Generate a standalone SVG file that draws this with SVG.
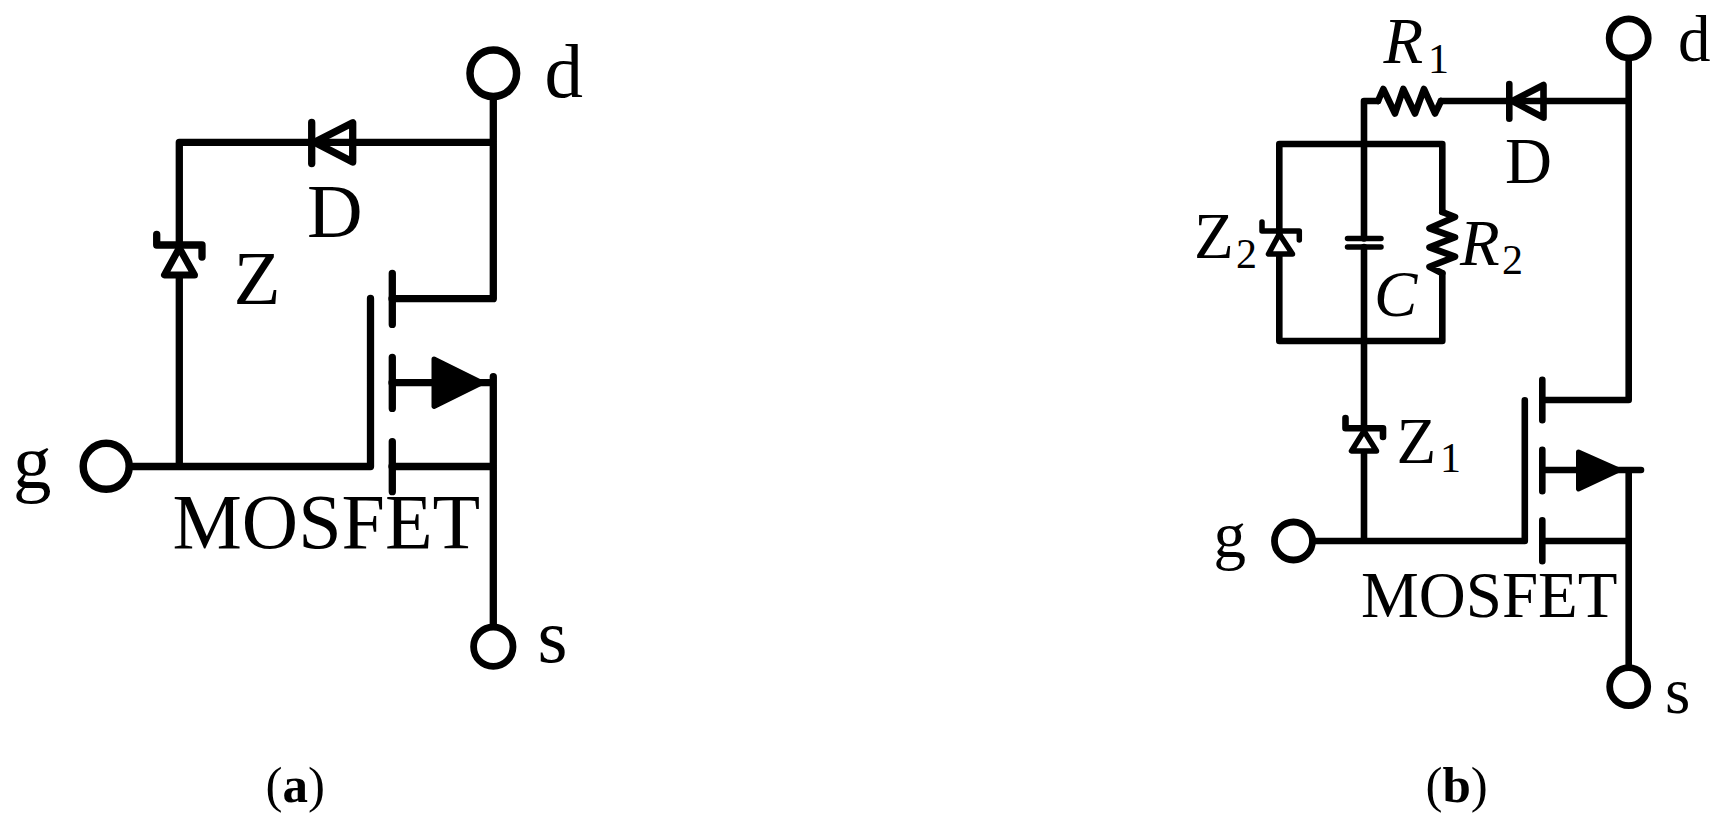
<svg xmlns="http://www.w3.org/2000/svg" width="1728" height="828" viewBox="0 0 1728 828">
<style>
text{font-family:"Liberation Serif","Times New Roman",serif;fill:#000}
.i{font-style:italic}
.w{fill:none;stroke:#000;stroke-width:7.300;stroke-linecap:round;stroke-linejoin:round}
.n{fill:none;stroke:#000;stroke-width:6.600;stroke-linecap:round;stroke-linejoin:round}
.t{fill:#fff;stroke:#000;stroke-width:6;stroke-linejoin:round}
.k{fill:#000;stroke:#000;stroke-width:5;stroke-linejoin:round}
.c{fill:#fff;stroke:#000;stroke-width:7.500}
.c2{fill:#fff;stroke:#000;stroke-width:6.800}
.sub{font-size:42px}
</style>
<rect width="1728" height="828" fill="#fff"/>
<g id="connectors-a" class="w">
<path d="M493.300 96V298.700H392M493.300 142.300H179.300V466.500M128 466.500H370.500V298.500M392 382.700H490M493.300 376.700V628M392 466.500H493.300"/>
</g>
<g id="diode-a"><path class="w" d="M314.500 142.300L352.700 122.700V162Z"/><path class="w" d="M311.700 122.500V163.500"/></g>
<g id="zener-a"><path class="t" d="M179.300 248L164.500 275H194.500Z" style="stroke-width:7"/><path class="w" d="M156.700 234.500V245H202V257"/></g>
<g id="mosfet-a"><path class="w" d="M392.300 273.300V324.400M392.300 357.300V408.400M392.300 441.600V491.700"/><path class="k" d="M434 359L482 382.700L434 406.500Z"/></g>
<g id="term-d-a"><circle class="c" cx="493.300" cy="73.300" r="23.300"/></g>
<g id="term-g-a"><circle class="c" cx="106.200" cy="466.300" r="23"/></g>
<g id="term-s-a"><circle class="c2" cx="493.300" cy="646.700" r="19.700"/></g>
<g id="labels-a" font-size="77">
<text x="544.500" y="96.700">d</text><text x="13" y="488">g</text><text x="537.500" y="661.700">s</text>
<text x="307" y="237.300">D</text><text x="233.500" y="304">Z</text>
<text x="172.500" y="548.300" font-size="78">MOSFET</text>
<text x="265.500" y="801.700" font-size="51">(<tspan font-weight="bold">a</tspan>)</text>
</g>
<g id="connectors-b" class="n">
<path d="M1628.700 57V400H1543M1628.700 101H1441M1378 101H1364V238.500M1364 247V541M1279.300 144H1442.300V212M1442.300 273.300V341H1279.300V144M1313 541H1524.800V400.300M1543 470H1641M1628.700 470V668M1543 541H1628.700"/>
</g>
<g id="r1" class="n"><path d="M1378 101L1383.300 89L1395 113.500L1403.300 89L1415 113.500L1424 89L1435 113.500L1441 101"/></g>
<g id="r2" class="n"><path d="M1442.300 212L1455 217L1429.500 228.300L1455 237.300L1429.500 247.300L1455 256.700L1429.500 266.700L1442.300 273.300"/></g>
<g id="cap"><path d="M1347.500 238.500H1381M1347.500 247H1381" stroke="#000" stroke-width="5.500" stroke-linecap="round"/></g>
<g id="diode-b"><path class="n" d="M1512.500 101L1543.500 85V117.700Z"/><path class="n" d="M1509.300 84V118.700"/></g>
<g id="zener-z2"><path class="t" d="M1279.300 234L1268.500 254H1292.500Z" style="stroke-width:5.500"/><path class="n" style="stroke-width:5.500" d="M1262 222V231H1299.300V240"/></g>
<g id="zener-z1"><path class="t" d="M1364 431L1351.500 451H1376.500Z" style="stroke-width:5.500"/><path class="n" d="M1345.500 418V428.300H1383V437"/></g>
<g id="mosfet-b"><path class="n" d="M1542.300 379.700V420.300M1542.300 449.700V491.300M1542.300 520.300V561.300"/><path class="k" d="M1578.500 452L1619 470L1578.500 489Z"/></g>
<g id="term-d-b"><circle class="c2" cx="1628.700" cy="38.300" r="19.500"/></g>
<g id="term-g-b"><circle class="c2" cx="1293.500" cy="541" r="19"/></g>
<g id="term-s-b"><circle class="c2" cx="1628.700" cy="686.700" r="19"/></g>
<g id="labels-b" font-size="65">
<text x="1678" y="60.600">d</text><text x="1213.500" y="556.500">g</text><text x="1665" y="713.300">s</text>
<text x="1505" y="182.700">D</text>
<text x="1361" y="617.300">MOSFET</text>
<text x="1383.500" y="63.300" class="i">R</text><text class="sub" x="1428" y="72.700">1</text>
<text x="1194" y="258.300">Z</text><text class="sub" x="1236" y="267.700">2</text>
<text x="1460" y="265" class="i">R</text><text class="sub" x="1502" y="274">2</text>
<text x="1374" y="316" class="i">C</text>
<text x="1396.500" y="462.700">Z</text><text class="sub" x="1440" y="471.700">1</text>
<text x="1425.500" y="801.700" font-size="51">(<tspan font-weight="bold">b</tspan>)</text>
</g>
</svg>
